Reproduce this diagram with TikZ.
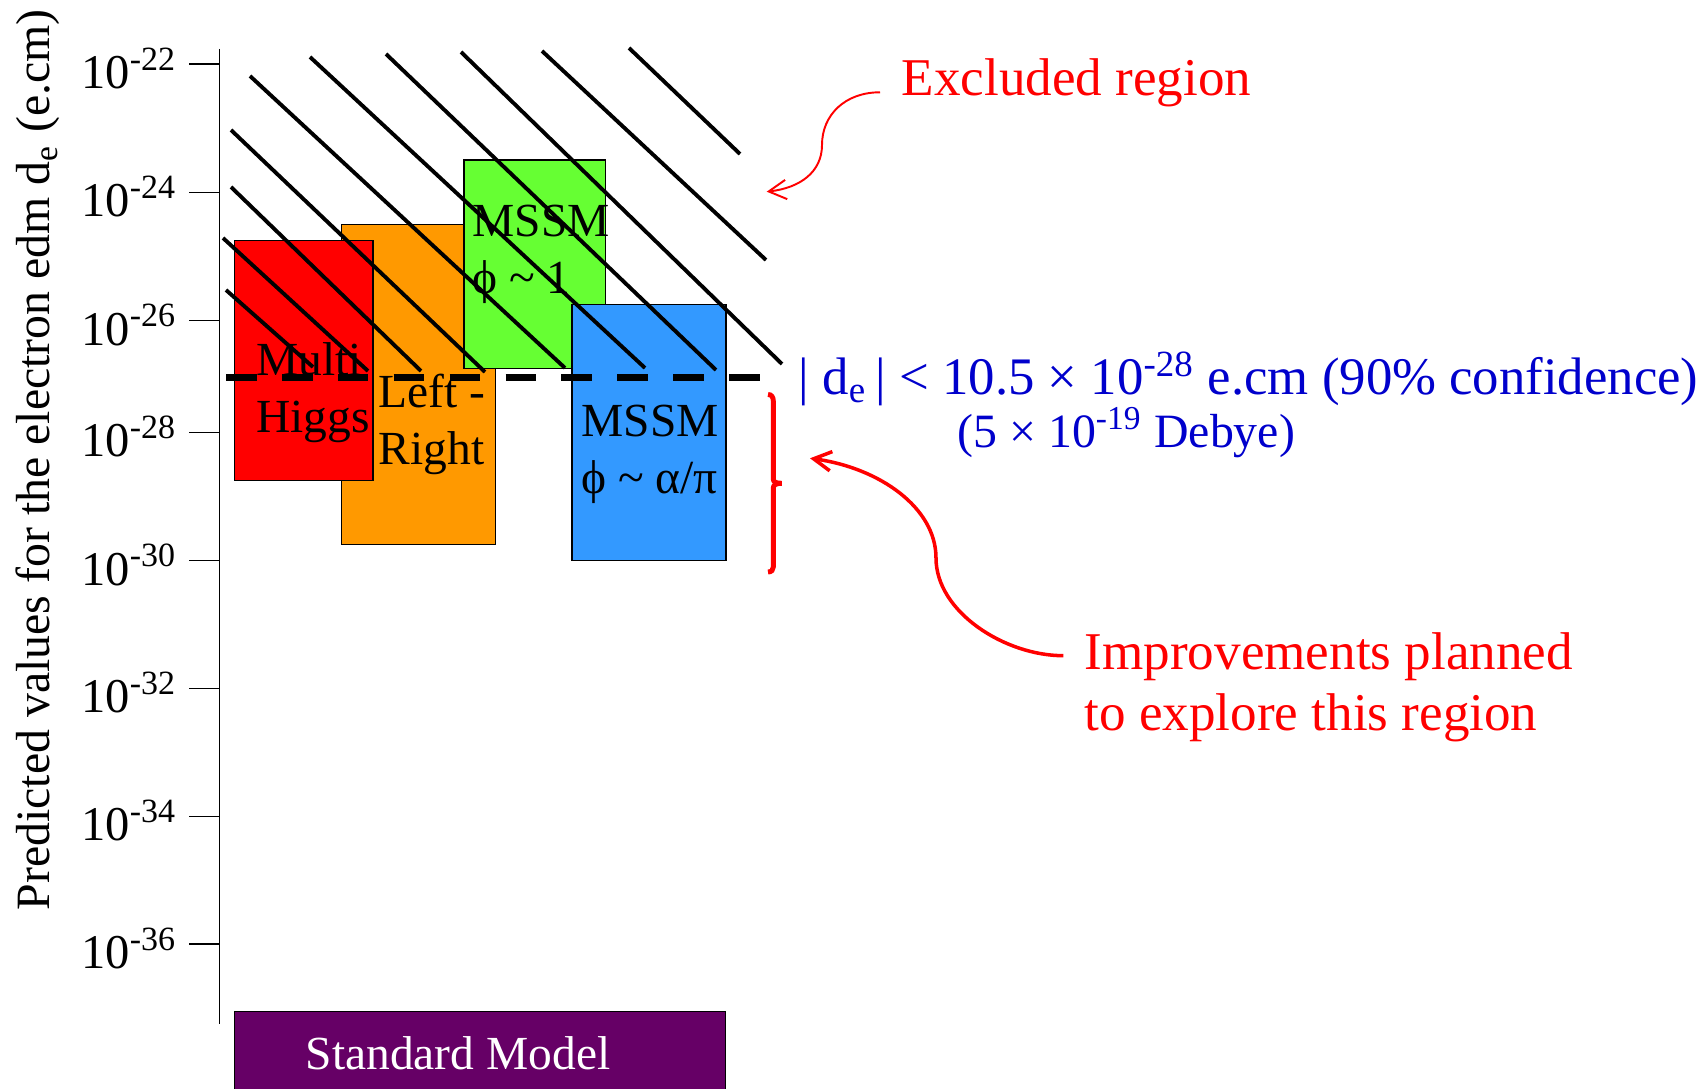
\documentclass[tikz,border=0pt]{standalone}
\usepackage{fontspec}
\setmainfont{Liberation Serif}
\usetikzlibrary{calc,arrows.meta}

\definecolor{mhred}{RGB}{255,0,0}
\definecolor{lrorange}{RGB}{255,153,0}
\definecolor{mssmgreen}{RGB}{102,255,51}
\definecolor{mssmblue}{RGB}{51,153,255}
\definecolor{smpurple}{RGB}{102,0,102}
\definecolor{limitblue}{RGB}{0,0,204}

\begin{document}
\begin{tikzpicture}[x=0.01cm,y=-0.01cm]
    % `model' is used for the coloured prediction boxes.
    % `hatch' is used for the lines of the excluded region.
    % `pointer' is used for the red curved arrows.
    \tikzstyle{model} = [draw=black,line width=0.4pt]
    \tikzstyle{modellabel} = [anchor=base west,align=left,inner sep=0pt,font=\fontsize{13.5}{16.3}\selectfont]
    \tikzstyle{hatch} = [line width=1.1pt]
    \tikzstyle{ticklabel} = [anchor=base east,inner sep=0pt,font=\fontsize{13.8}{16}\selectfont]
    \tikzstyle{note} = [anchor=base west,align=left,inner sep=0pt,font=\fontsize{15.1}{17.4}\selectfont]
    \tikzstyle{pointer} = [red,line width=1pt,-{Straight Barb[length=5pt,width=5.5pt]}]
    %
    \useasboundingbox (0,0) rectangle (1703,1089);

    % Axis with ticks.
    \draw[line width=0.45pt] (219.4,49) -- (219.4,1024);
    \foreach \e/\y in {22/64.3,24/192.5,26/320.7,28/432.5,30/560.7,32/688.5,34/816.3,36/944.2} {
      \draw[line width=0.45pt] (189,\y) -- (219.4,\y);
      \node[ticklabel] (tick\e) at (177.5,\y+24.5) {10\textsuperscript{-\e}};
    }
    \node[rotate=90,anchor=base west,inner sep=0pt,font=\fontsize{13.6}{16}\selectfont] (ylabel) at (50,911)
      {Predicted values for the electron edm d\textsubscript{e} (e.cm)};

    % Predictions (labels are placed at the baseline of their last line).
    \filldraw[model,fill=lrorange] (341.6,224.4) rectangle (495.4,544.7);
    \filldraw[model,fill=mhred] (234.4,240.5) rectangle (373,480.8);
    \filldraw[model,fill=mssmgreen] (464,160) rectangle (605.7,368.7);
    \filldraw[model,fill=mssmblue] (572,304.4) rectangle (725.8,560.8);
    \node[modellabel] (multi) at (255.5,432.6) {Multi\\Higgs};
    \node[modellabel] (leftright) at (378,465) {Left -\\Right};
    \node[modellabel] (mssmone) at (471.7,294) {MSSM\\ϕ \textasciitilde{} 1};
    \node[modellabel] (mssmalpha) at (580.8,493.8) {MSSM\\ϕ \textasciitilde{} α/π};

    % Excluded region.
    \foreach \xa/\ya/\xb/\yb in {226/290/313/367, 223/238/368/371, 231/187/421/371, 231/130/485/372,
        250/76/565/368, 310/57/645/368, 386/54/716/370, 461/52/782/364, 542/51/766/260, 629/48/740/154}
      \draw[hatch] (\xa,\ya) -- (\xb,\yb);

    % Present limit.
    \coordinate (limit start) at (226,377.5);
    \coordinate (limit end) at (761,377.5);
    \draw[line width=2pt,dash pattern=on 8.7pt off 7.2pt] (limit start) -- (limit end);

    % Standard Model.
    \filldraw[model,fill=smpurple] (234.7,1011.5) rectangle (725.5,1100);
    \node[anchor=base,inner sep=0pt,text=white,font=\fontsize{13.5}{16}\selectfont] (sm) at (458,1069) {Standard Model};

    % Bracket for the planned region.
    \draw[red,line width=1.4pt] (768,394.5) .. controls (771.5,394.5) and (773.3,397) .. (773.3,401)
      -- (773.3,479) .. controls (773.3,482) and (776,483.3) .. (781.7,483.3)
      .. controls (776,483.3) and (773.3,485) .. (773.3,488)
      -- (773.3,567) .. controls (773.3,570) and (771.5,572) .. (768,572);

    % Notes and pointers.
    \node[note,text=red] (excluded) at (901,96) {Excluded region};
    \coordinate (excl tip) at (766.7,191.7);
    \draw[pointer,line width=0.55pt] ($(excluded.base west)+(-21,-3.7)$) .. controls (845,92.3) and (822,115) .. (822,145)
      .. controls (822,172) and (800,188) .. (excl tip);

    \node[note,text=red] (improve) at (1084,731) {Improvements planned\\to explore this region};
    \coordinate (brk tip) at (810,458.3);
    \draw[pointer] ($(improve.base west)+(-20.7,-75.3)$) .. controls (1005,655.7) and (936,612) .. (936,558)
      .. controls (936,508) and (880,468) .. (brk tip);

    \node[note,text=limitblue,font=\fontsize{15}{17.4}\selectfont] (limit) at (798,395)
      {| d\textsubscript{e}\,| < 10.5 × 10\textsuperscript{-28} e.cm (90\% confidence)};
    \node[note,text=limitblue,font=\fontsize{13.6}{16}\selectfont] (debye) at (956.7,448)
      {(5 × 10\textsuperscript{-19} Debye)};
\end{tikzpicture}
\end{document}
